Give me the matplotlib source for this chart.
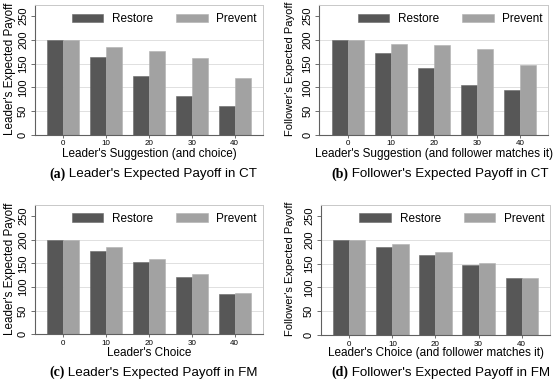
import matplotlib
matplotlib.use("Agg")
import matplotlib.pyplot as plt
import numpy as np

plt.rcParams['font.family'] = ['Liberation Sans', 'DejaVu Sans']

categories = ["0", "10", "20", "30", "40"]
series_names = ["Restore", "Prevent"]

a_restore = [200, 163, 124, 81, 60]
a_prevent = [200, 185, 176, 161, 119]
b_restore = [200, 172, 140, 105, 95]
b_prevent = [200, 192, 189, 180, 148]
c_restore = [200, 176, 152, 122, 85]
c_prevent = [200, 185, 160, 128, 88]
d_restore = [200, 184, 169, 147, 120]
d_prevent = [200, 191, 175, 152, 120]

yticks = [0, 50, 100, 150, 200, 250]
grid_vals = [50, 100, 150, 200]

panels = [
    dict(restore=a_restore, prevent=a_prevent,
         ylabel="Leader's Expected Payoff", ylfs=8.4,
         xlabel="Leader's Suggestion (and choice)",
         tag="(a)", caption=" Leader's Expected Payoff in CT",
         box=(35, 5.3, 263, 134.7), ylx=10, xly=154, capx=49, capy=174, legx=0.567),
    dict(restore=b_restore, prevent=b_prevent,
         ylabel="Follower's Expected Payoff", ylfs=8.0,
         xlabel="Leader's Suggestion (and follower matches it)",
         tag="(b)", caption=" Follower's Expected Payoff in CT",
         box=(319.3, 5.3, 548.3, 134.7), ylx=290, xly=154, capx=331, capy=174, legx=0.572),
    dict(restore=c_restore, prevent=c_prevent,
         ylabel="Leader's Expected Payoff", ylfs=8.4,
         xlabel="Leader's Choice",
         tag="(c)", caption=" Leader's Expected Payoff in FM",
         box=(35, 205, 263, 334.3), ylx=10, xly=353, capx=49, capy=372.7, legx=0.567),
    dict(restore=d_restore, prevent=d_prevent,
         ylabel="Follower's Expected Payoff", ylfs=8.0,
         xlabel="Leader's Choice (and follower matches it)",
         tag="(d)", caption=" Follower's Expected Payoff in FM",
         box=(321, 205, 550, 335), ylx=290, xly=353, capx=331, capy=372.7, legx=0.572),
]

W, H = 553, 382
fig = plt.figure(figsize=(W / 100, H / 100), dpi=100)
fig.patch.set_facecolor('white')

c_restore_col = '#575757'
c_prevent_col = '#a2a2a2'
bw = 0.373

for p in panels:
    x0, y0, x1, y1 = p['box']
    ax = fig.add_axes([x0 / W, 1 - y1 / H, (x1 - x0) / W, (y1 - y0) / H])
    x = np.arange(len(categories))
    for g in grid_vals:
        ax.axhline(g, color='#e0e0e0', lw=0.7, zorder=0)
    ax.bar(x - bw / 2, p['restore'], bw, color=c_restore_col, edgecolor='#686868', lw=0.4, label=series_names[0], zorder=2)
    ax.bar(x + bw / 2, p['prevent'], bw, color=c_prevent_col, edgecolor='#b0b0b0', lw=0.4, label=series_names[1], zorder=2)
    ax.set_xlim(-0.66, 4.66)
    ax.set_ylim(0, 273)
    ax.set_xticks(x)
    ax.set_xticklabels(categories, fontsize=5.8)
    ax.set_yticks(yticks)
    ax.set_yticklabels([str(v) for v in yticks], fontsize=8, rotation=90, va='center')
    ax.tick_params(axis='y', length=3, width=0.6, color='#555555', pad=2)
    ax.tick_params(axis='x', length=2, width=0.6, color='#555555', pad=2)
    for s in ['top', 'right']:
        ax.spines[s].set_color('#c8c8c8')
        ax.spines[s].set_linewidth(0.7)
    for s in ['left', 'bottom']:
        ax.spines[s].set_color('#606060')
        ax.spines[s].set_linewidth(0.8)
    legy = 1 - 13.7 / (y1 - y0)
    ax.legend(loc='center', bbox_to_anchor=(p['legx'], legy), ncol=2, frameon=False,
              fontsize=8.5, handlelength=2.68, handleheight=0.7, columnspacing=1.95,
              handletextpad=0.74, borderaxespad=0.0, borderpad=0.0)
    fig.text(p['ylx'] / W, 1 - ((y0 + y1) / 2 - 1) / H, p['ylabel'], rotation=90,
             ha='center', va='center', fontsize=p['ylfs'])
    fig.text(((x0 + x1) / 2) / W, 1 - p['xly'] / H, p['xlabel'],
             ha='center', va='center', fontsize=8.5)
    t = fig.text(p['capx'] / W, 1 - p['capy'] / H, p['tag'], ha='left', va='center',
                 fontsize=10, family='Liberation Serif', weight='bold')
    fig.canvas.draw()
    bb = t.get_window_extent()
    fig.text(bb.x1 / W, 1 - p['capy'] / H, p['caption'], ha='left', va='center', fontsize=9.6)

fig.savefig('out.png', dpi=100, facecolor='white')
